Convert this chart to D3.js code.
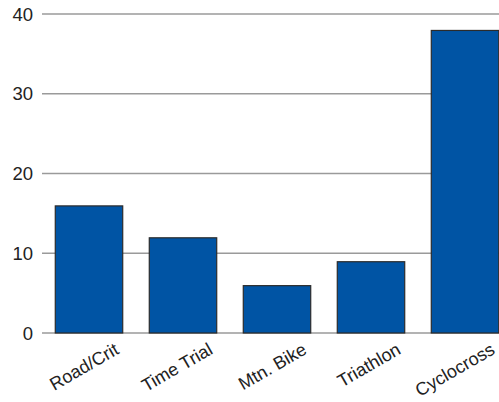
<!DOCTYPE html>
<html>
<head>
<meta charset="utf-8">
<script src="https://cdn.jsdelivr.net/npm/d3@7"></script>
<style>
html,body{margin:0;padding:0;background:#fff;}
svg{display:block;}
text{font-family:"Liberation Sans",Arial,sans-serif;fill:#222;}
</style>
</head>
<body>
<svg id="chart" width="499" height="402"></svg>
<script>
const categories = ["Road/Crit", "Time Trial", "Mtn. Bike", "Triathlon", "Cyclocross"];
const values = [16, 12, 6, 9, 38];
const yTicks = [0, 10, 20, 30, 40];

const svg = d3.select("#chart");
const W = 499, H = 402;

const x = d3.scaleBand().domain(categories).range([42, 512]).paddingInner(0.272).paddingOuter(0.136);
const y = d3.scaleLinear().domain([0, 40]).range([333, 14]);

// gridlines
svg.append("g").selectAll("line").data(yTicks).join("line")
  .attr("x1", 42).attr("x2", W)
  .attr("y1", d => y(d)).attr("y2", d => y(d))
  .attr("stroke", "#9a9a9a").attr("stroke-width", 1.4);

// y tick labels
svg.append("g").selectAll("text").data(yTicks).join("text")
  .attr("x", 33).attr("y", d => y(d)).attr("dy", "0.36em")
  .attr("text-anchor", "end").attr("font-size", 18.5)
  .text(d => d);

// bars
svg.append("g").selectAll("rect").data(values).join("rect")
  .attr("x", (d, i) => x(categories[i]) + 0.5)
  .attr("y", d => y(d) + 0.5)
  .attr("width", x.bandwidth() - 1)
  .attr("height", d => y(0) - y(d) - 0.5)
  .attr("fill", "#0054a4")
  .attr("stroke", "#2b2b2b").attr("stroke-width", 1.2);

// category labels
svg.append("g").selectAll("text").data(categories).join("text")
  .attr("text-anchor", "end").attr("font-size", 18)
  .attr("transform", d => `translate(${x(d) + x.bandwidth() / 2 + 31},353) rotate(-30)`)
  .text(d => d);
</script>
</body>
</html>
